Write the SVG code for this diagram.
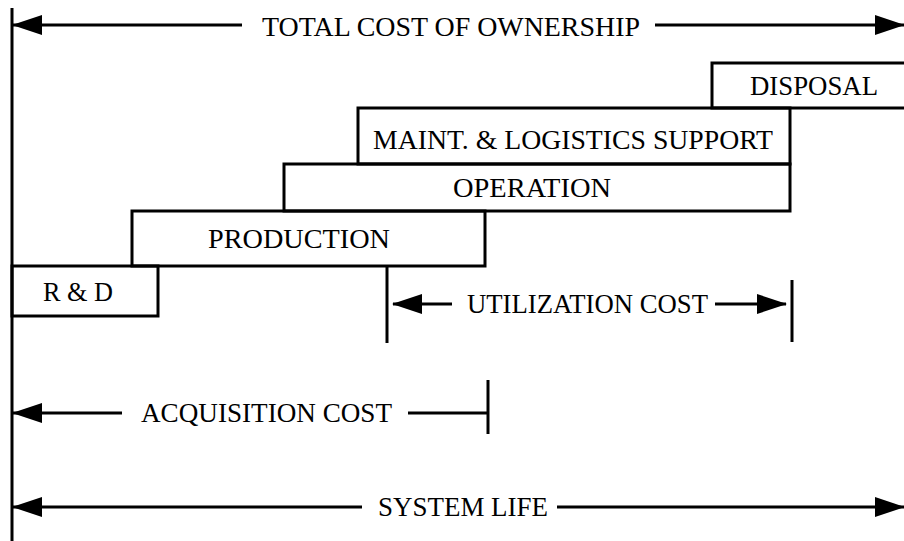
<svg xmlns="http://www.w3.org/2000/svg" width="904" height="541" viewBox="0 0 904 541">
<style>
  .box { fill: none; stroke: #000; stroke-width: 3; }
  .ln { stroke: #000; stroke-width: 3; fill: none; }
  .t { font-family: "Liberation Serif", "Times New Roman", serif; font-size: 27px; fill: #000; }
</style>
<defs>
  <marker id="ah" viewBox="0 0 30 20" refX="29" refY="10" markerWidth="30" markerHeight="20" markerUnits="userSpaceOnUse" orient="auto">
    <path d="M0,0 L30,10 L0,20 z" fill="#000"/>
  </marker>
</defs>
<rect width="904" height="541" fill="#fff"/>

<g id="rd">
  <rect class="box" x="12" y="266" width="146" height="50"/>
  <text class="t" x="43" y="301" textLength="70" lengthAdjust="spacingAndGlyphs">R &amp; D</text>
</g>
<g id="production">
  <rect class="box" x="132" y="211" width="353" height="55"/>
  <text class="t" x="208" y="248" textLength="182" lengthAdjust="spacingAndGlyphs">PRODUCTION</text>
</g>
<g id="operation">
  <rect class="box" x="284" y="164" width="506" height="47"/>
  <text class="t" x="453" y="197" textLength="158" lengthAdjust="spacingAndGlyphs">OPERATION</text>
</g>
<g id="maint">
  <rect class="box" x="358" y="108" width="432" height="56"/>
  <text class="t" x="373" y="149" textLength="400" lengthAdjust="spacingAndGlyphs">MAINT. &amp; LOGISTICS SUPPORT</text>
</g>
<g id="disposal">
  <rect class="box" x="712" y="63" width="200" height="45"/>
  <text class="t" x="750" y="95" textLength="128" lengthAdjust="spacingAndGlyphs">DISPOSAL</text>
</g>

<g id="labels">
  <text class="t" x="262" y="36" textLength="378" lengthAdjust="spacingAndGlyphs">TOTAL COST OF OWNERSHIP</text>
  <text class="t" x="467" y="313" textLength="241" lengthAdjust="spacingAndGlyphs">UTILIZATION COST</text>
  <text class="t" x="141" y="422" textLength="251" lengthAdjust="spacingAndGlyphs">ACQUISITION COST</text>
  <text class="t" x="378" y="516" textLength="170" lengthAdjust="spacingAndGlyphs">SYSTEM LIFE</text>
</g>

<g id="connectors">
  <line class="ln" x1="12" y1="8" x2="12" y2="541"/>
  <line class="ln" x1="387" y1="266" x2="387" y2="343"/>
  <line class="ln" x1="792" y1="280" x2="792" y2="342"/>
  <line class="ln" x1="488" y1="380" x2="488" y2="434"/>
  <line class="ln" x1="242" y1="25" x2="13" y2="25" marker-end="url(#ah)"/>
  <line class="ln" x1="655" y1="25" x2="904" y2="25" marker-end="url(#ah)"/>
  <line class="ln" x1="452" y1="304" x2="393" y2="304" marker-end="url(#ah)"/>
  <line class="ln" x1="715" y1="304" x2="786" y2="304" marker-end="url(#ah)"/>
  <line class="ln" x1="122" y1="413" x2="13" y2="413" marker-end="url(#ah)"/>
  <line class="ln" x1="408" y1="413" x2="488" y2="413"/>
  <line class="ln" x1="362" y1="507" x2="13" y2="507" marker-end="url(#ah)"/>
  <line class="ln" x1="557" y1="507" x2="904" y2="507" marker-end="url(#ah)"/>
</g>
</svg>
